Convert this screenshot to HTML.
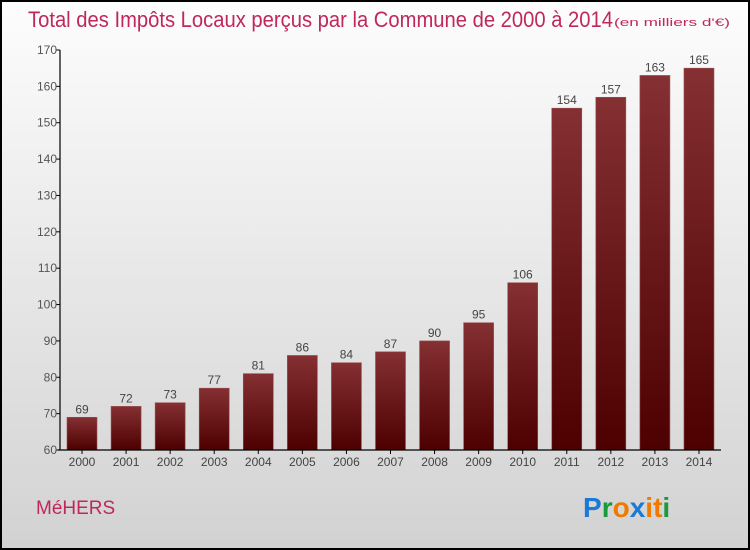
<!DOCTYPE html>
<html><head><meta charset="utf-8"><style>
body{margin:0;width:750px;height:550px;overflow:hidden;}
svg{display:block;font-family:"Liberation Sans",sans-serif;}
</style></head><body>
<svg id="chart" width="750" height="550">
<defs>
<linearGradient id="bg" x1="0" y1="0" x2="0" y2="1"><stop offset="0" stop-color="#fdfdfd"/><stop offset="1" stop-color="#d2d2d2"/></linearGradient>
<linearGradient id="bar" x1="0" y1="0" x2="0" y2="1"><stop offset="0" stop-color="#853033"/><stop offset="1" stop-color="#4d0000"/></linearGradient>
</defs>
<rect x="1" y="1" width="748" height="548" fill="url(#bg)" stroke="#000" stroke-width="2"/>
<text x="28" y="27" font-size="22" fill="#c0285a" textLength="585" lengthAdjust="spacingAndGlyphs">Total des Impôts Locaux perçus par la Commune de 2000 à 2014</text>
<text x="614" y="26" font-size="11" fill="#c0285a" textLength="116" lengthAdjust="spacingAndGlyphs">(en milliers d'€)</text>
<g id="plot"></g>
<text x="36" y="514" font-size="19" fill="#c0285a">MéHERS</text>
<g font-size="28" font-weight="bold" font-family="Liberation Sans,sans-serif">
<text x="583" y="517" fill="#1a7ad6">P<tspan fill="#1a9a3a">r</tspan><tspan fill="#f07a00">o</tspan><tspan fill="#1a7ad6">x</tspan><tspan fill="#f07a00">i</tspan><tspan fill="#f07a00">t</tspan><tspan fill="#1a9a3a">i</tspan></text>
</g>
</svg>
<script>
const years=["2000","2001","2002","2003","2004","2005","2006","2007","2008","2009","2010","2011","2012","2013","2014"];
const values=[69,72,73,77,81,86,84,87,90,95,106,154,157,163,165];
const yTicks=[60,70,80,90,100,110,120,130,140,150,160,170];
const ns="http://www.w3.org/2000/svg";
const g=document.getElementById('plot');
const y0=450,y1=50,vmin=60,vmax=170;
function yS(v){return y0-(v-vmin)/(vmax-vmin)*(y0-y1);}
function xS(i){return 82+i*44.07;}
function mk(t,a,txt){const e=document.createElementNS(ns,t);for(const k in a)e.setAttribute(k,a[k]);if(txt!=null)e.textContent=txt;g.appendChild(e);return e;}
yTicks.forEach(v=>{
 const l=mk('line',{x1:56,x2:60,y1:yS(v),y2:yS(v),stroke:'#000'});
 
 
 const t=mk('text',{x:57,y:yS(v)+4,'font-size':12,fill:'#555','text-anchor':'end'},v);
 
 
});
values.forEach((v,i)=>{
 const x=xS(i);
 const r=mk('rect',{x:x-15,y:yS(v),width:30,height:y0-yS(v),fill:'url(#bar)',stroke:'#9a5050','stroke-width':0.6});
 
 
 const t=mk('text',{x:x,y:yS(v)-4,'font-size':12,fill:'#444','text-anchor':'middle'},v);
 
 
 const tk=mk('line',{x1:x,x2:x,y1:450,y2:454,stroke:'#000'});
 
 
 const xl=mk('text',{x:x,y:466,'font-size':12,fill:'#444','text-anchor':'middle'},years[i]);
 
 
});
const ya=mk('line',{x1:60,x2:60,y1:50,y2:450,stroke:'#000','stroke-width':1.2});


const xa=mk('line',{x1:58,x2:721,y1:450,y2:450,stroke:'#000','stroke-width':1.2});


</script>
</body></html>
